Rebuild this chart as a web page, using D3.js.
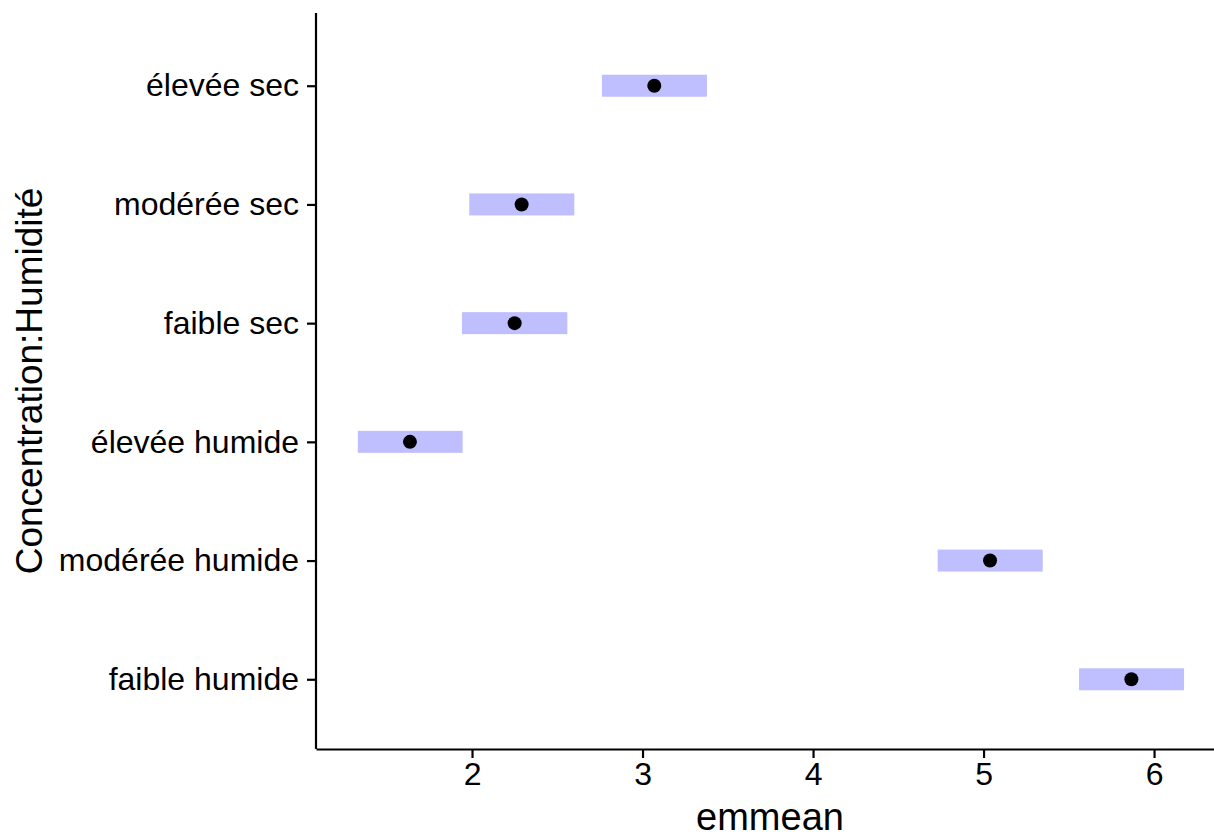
<!DOCTYPE html>
<html>
<head>
<meta charset="utf-8">
<script src="https://cdn.jsdelivr.net/npm/d3@7"></script>
<style>
  html, body { margin: 0; padding: 0; background: #ffffff; }
  svg { display: block; font-family: "Liberation Sans", Arial, Helvetica, sans-serif; }
</style>
</head>
<body>
<svg id="chart" width="1214" height="837"></svg>
<script>
// Estimated marginal means by Concentration:Humidité, with confidence bands
const categories = ["faible humide", "modérée humide", "élevée humide", "faible sec", "modérée sec", "élevée sec"];
const emmean   = [5.867, 5.038, 1.636, 2.250, 2.291, 3.069];
const lowerCL  = [5.560, 4.731, 1.330, 1.941, 1.984, 2.762];
const upperCL  = [6.176, 5.347, 1.945, 2.559, 2.600, 3.378];
const xTicks   = [2, 3, 4, 5, 6];
const xTitle = "emmean";
const yTitle = "Concentration:Humidité";

const rows = categories.map((c, i) => ({ cat: c, mean: emmean[i], lo: lowerCL[i], hi: upperCL[i] }));

const svg = d3.select("#chart");
const panel = { left: 316, right: 1240, top: 13, bottom: 749 };

const x = d3.scaleLinear().domain([1.085, 6.504]).range([panel.left, panel.right]);
// discrete axis with 0.6 unit padding on both ends, first category at the bottom
const y = d3.scaleLinear().domain([0.4, categories.length + 0.6]).range([panel.bottom + 1.5, panel.top + 1.5]);
const yPos = c => y(categories.indexOf(c) + 1);

const barH = 22;

// confidence bars
svg.append("g").selectAll("rect").data(rows).join("rect")
  .attr("x", d => x(d.lo))
  .attr("width", d => x(d.hi) - x(d.lo))
  .attr("y", d => yPos(d.cat) - barH / 2)
  .attr("height", barH)
  .attr("fill", "#bfbfff");

// means
svg.append("g").selectAll("circle").data(rows).join("circle")
  .attr("cx", d => x(d.mean))
  .attr("cy", d => yPos(d.cat))
  .attr("r", 7)
  .attr("fill", "#000000");

// x axis
const xAxis = svg.append("g")
  .attr("transform", `translate(0,${panel.bottom})`)
  .call(d3.axisBottom(x).tickValues(xTicks).tickFormat(d3.format("d")).tickSizeInner(9).tickSizeOuter(0).tickPadding(4));
xAxis.select(".domain").attr("stroke", "#000").attr("stroke-width", 2.2);
xAxis.selectAll(".tick line").attr("stroke", "#000").attr("stroke-width", 2.2);
xAxis.selectAll(".tick text").attr("fill", "#000").attr("font-size", 32).attr("font-family", "Liberation Sans, Arial, sans-serif");

// y axis
const yAxis = svg.append("g")
  .attr("transform", `translate(${panel.left},0)`)
  .call(d3.axisLeft(y).tickValues(d3.range(1, categories.length + 1))
    .tickFormat(i => categories[i - 1]).tickSizeInner(9).tickSizeOuter(0).tickPadding(8));
yAxis.select(".domain").attr("stroke", "#000").attr("stroke-width", 2.2)
  .attr("d", `M0,${panel.top}V${panel.bottom}`);
yAxis.selectAll(".tick line").attr("stroke", "#000").attr("stroke-width", 2.2);
yAxis.selectAll(".tick text").attr("fill", "#000").attr("font-size", 32).attr("font-family", "Liberation Sans, Arial, sans-serif");

// axis titles
svg.append("text")
  .attr("x", 770).attr("y", 830)
  .attr("text-anchor", "middle")
  .attr("font-size", 38)
  .attr("fill", "#000")
  .text(xTitle);

svg.append("text")
  .attr("transform", `translate(42,${(panel.top + panel.bottom) / 2}) rotate(-90)`)
  .attr("text-anchor", "middle")
  .attr("font-size", 37)
  .attr("fill", "#000")
  .text(yTitle);
</script>
</body>
</html>
